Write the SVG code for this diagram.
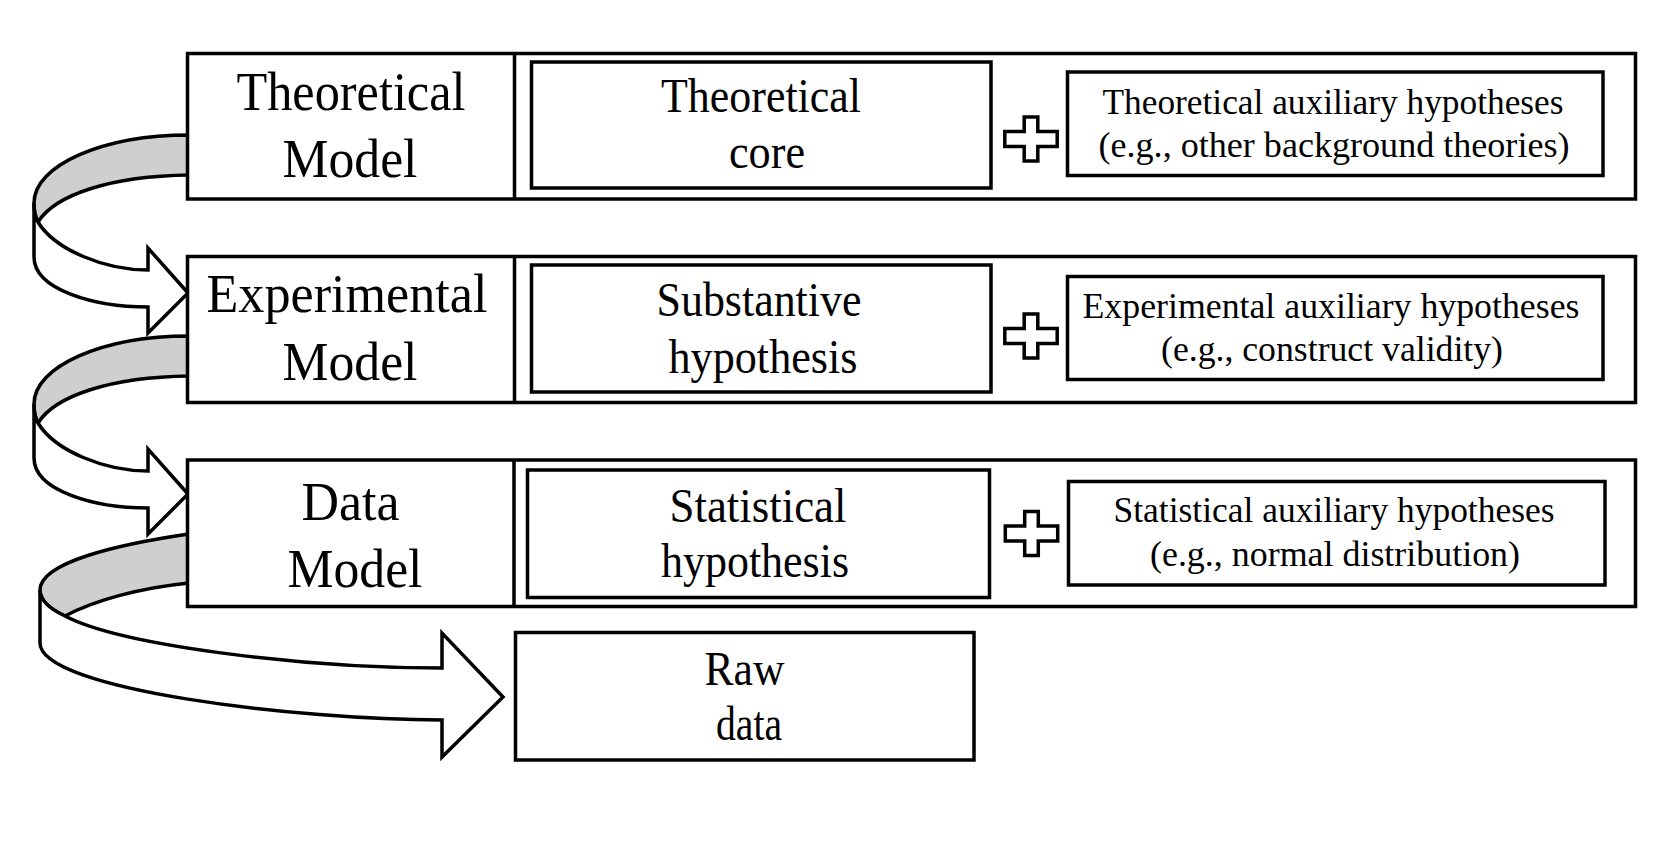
<svg xmlns="http://www.w3.org/2000/svg" width="1678" height="844" viewBox="0 0 1678 844">
<defs>
<style>
.box{fill:#fff;stroke:#000;stroke-width:3.5}
.div{stroke:#000;stroke-width:3.5}
.band{fill:#cfcfcf;stroke:#000;stroke-width:3.5;stroke-linejoin:round}
.arrow{fill:#fff;stroke:#000;stroke-width:3.5;stroke-linejoin:miter}
.plus{fill:#fff;stroke:#000;stroke-width:3.5}
text{font-family:"Liberation Serif","Times New Roman",serif;fill:#000;text-anchor:middle}
.lab{font-size:55px}
.mid{font-size:48px}
.aux{font-size:36px}
</style>
<path id="plus" class="plus" d="M-6.8,-22 H6.8 V-7.5 H26.2 V7.5 H6.8 V22 H-6.8 V7.5 H-26.2 V-7.5 H-6.8 Z"/>
<g id="curl">
<path class="band" d="M189,135 C102.5,135 34,165.5 34,203 C34,211 35,217 38,222 C55,195 110,176 189,175 Z"/>
<path class="arrow" d="M34,203 C34,211 35,217 38,222 C55,250 105,270 148,270 L148,248 L188,293 L148,333 L148,307 C95,307 34,290 34,257 Z"/>
</g>
</defs>
<rect width="1678" height="844" fill="#fff"/>

<g id="connectors">
<use id="arrow1" href="#curl"/>
<use id="arrow2" href="#curl" transform="translate(0,201)"/>
<g id="arrow3">
<path class="band" d="M189,534 C120,544 40,562 40,590 C40,600 50,609 65,616 C95,600 140,588 189,583 Z"/>
<path class="arrow" d="M40,590 C40,600 50,609 65,616 C120,645 300,668 442,668 L442,633 L503,697 L442,757 L442,720 C300,720 40,690 40,643 Z"/>
</g>
</g>

<g id="theoretical-model">
<rect class="box" x="187.5" y="53.5" width="1448" height="145.5"/>
<line class="div" x1="514.5" y1="53.5" x2="514.5" y2="199"/>
<text class="lab" x="351" y="110" textLength="229" lengthAdjust="spacingAndGlyphs">Theoretical</text>
<text class="lab" x="350" y="176.5" textLength="135" lengthAdjust="spacingAndGlyphs">Model</text>
</g>
<g id="theoretical-core">
<rect class="box" x="531.5" y="62" width="459.5" height="126"/>
<text class="mid" x="761" y="111.7" textLength="200" lengthAdjust="spacingAndGlyphs">Theoretical</text>
<text class="mid" x="767" y="168.3" textLength="76" lengthAdjust="spacingAndGlyphs">core</text>
</g>
<g id="plus1"><use href="#plus" x="1031" y="139"/></g>
<g id="theoretical-aux">
<rect class="box" x="1067.5" y="72" width="535.5" height="103.5"/>
<text class="aux" x="1333" y="114" textLength="461" lengthAdjust="spacingAndGlyphs">Theoretical auxiliary hypotheses</text>
<text class="aux" x="1334" y="157" textLength="471" lengthAdjust="spacingAndGlyphs">(e.g., other background theories)</text>
</g>

<g id="experimental-model">
<rect class="box" x="187.5" y="256.5" width="1448" height="146"/>
<line class="div" x1="514.5" y1="256.5" x2="514.5" y2="402.5"/>
<text class="lab" x="347" y="311.7" textLength="281" lengthAdjust="spacingAndGlyphs">Experimental</text>
<text class="lab" x="350" y="380" textLength="135" lengthAdjust="spacingAndGlyphs">Model</text>
</g>
<g id="substantive-hypothesis">
<rect class="box" x="531.5" y="265" width="459.5" height="127"/>
<text class="mid" x="759" y="316" textLength="205" lengthAdjust="spacingAndGlyphs">Substantive</text>
<text class="mid" x="763" y="372.5" textLength="189" lengthAdjust="spacingAndGlyphs">hypothesis</text>
</g>
<g id="plus2"><use href="#plus" x="1031" y="336"/></g>
<g id="experimental-aux">
<rect class="box" x="1067.5" y="276.5" width="535.5" height="103"/>
<text class="aux" x="1331" y="318" textLength="497" lengthAdjust="spacingAndGlyphs">Experimental auxiliary hypotheses</text>
<text class="aux" x="1332" y="361" textLength="342" lengthAdjust="spacingAndGlyphs">(e.g., construct validity)</text>
</g>

<g id="data-model">
<rect class="box" x="187.5" y="460" width="1448" height="146.5"/>
<line class="div" x1="514" y1="460" x2="514" y2="606.5"/>
<text class="lab" x="350.5" y="520" textLength="98" lengthAdjust="spacingAndGlyphs">Data</text>
<text class="lab" x="355" y="586.7" textLength="135" lengthAdjust="spacingAndGlyphs">Model</text>
</g>
<g id="statistical-hypothesis">
<rect class="box" x="527.5" y="470" width="462" height="127.5"/>
<text class="mid" x="758" y="522" textLength="177" lengthAdjust="spacingAndGlyphs">Statistical</text>
<text class="mid" x="755" y="576.7" textLength="188" lengthAdjust="spacingAndGlyphs">hypothesis</text>
</g>
<g id="plus3"><use href="#plus" x="1031.5" y="533.5"/></g>
<g id="statistical-aux">
<rect class="box" x="1068.5" y="481.5" width="536.5" height="103.5"/>
<text class="aux" x="1334" y="522" textLength="441" lengthAdjust="spacingAndGlyphs">Statistical auxiliary hypotheses</text>
<text class="aux" x="1335" y="566" textLength="370" lengthAdjust="spacingAndGlyphs">(e.g., normal distribution)</text>
</g>

<g id="raw-data">
<rect class="box" x="515.5" y="632.5" width="458.5" height="127.5"/>
<text class="mid" x="744.5" y="685" textLength="80" lengthAdjust="spacingAndGlyphs">Raw</text>
<text class="mid" x="749" y="740" textLength="66" lengthAdjust="spacingAndGlyphs">data</text>
</g>
</svg>
